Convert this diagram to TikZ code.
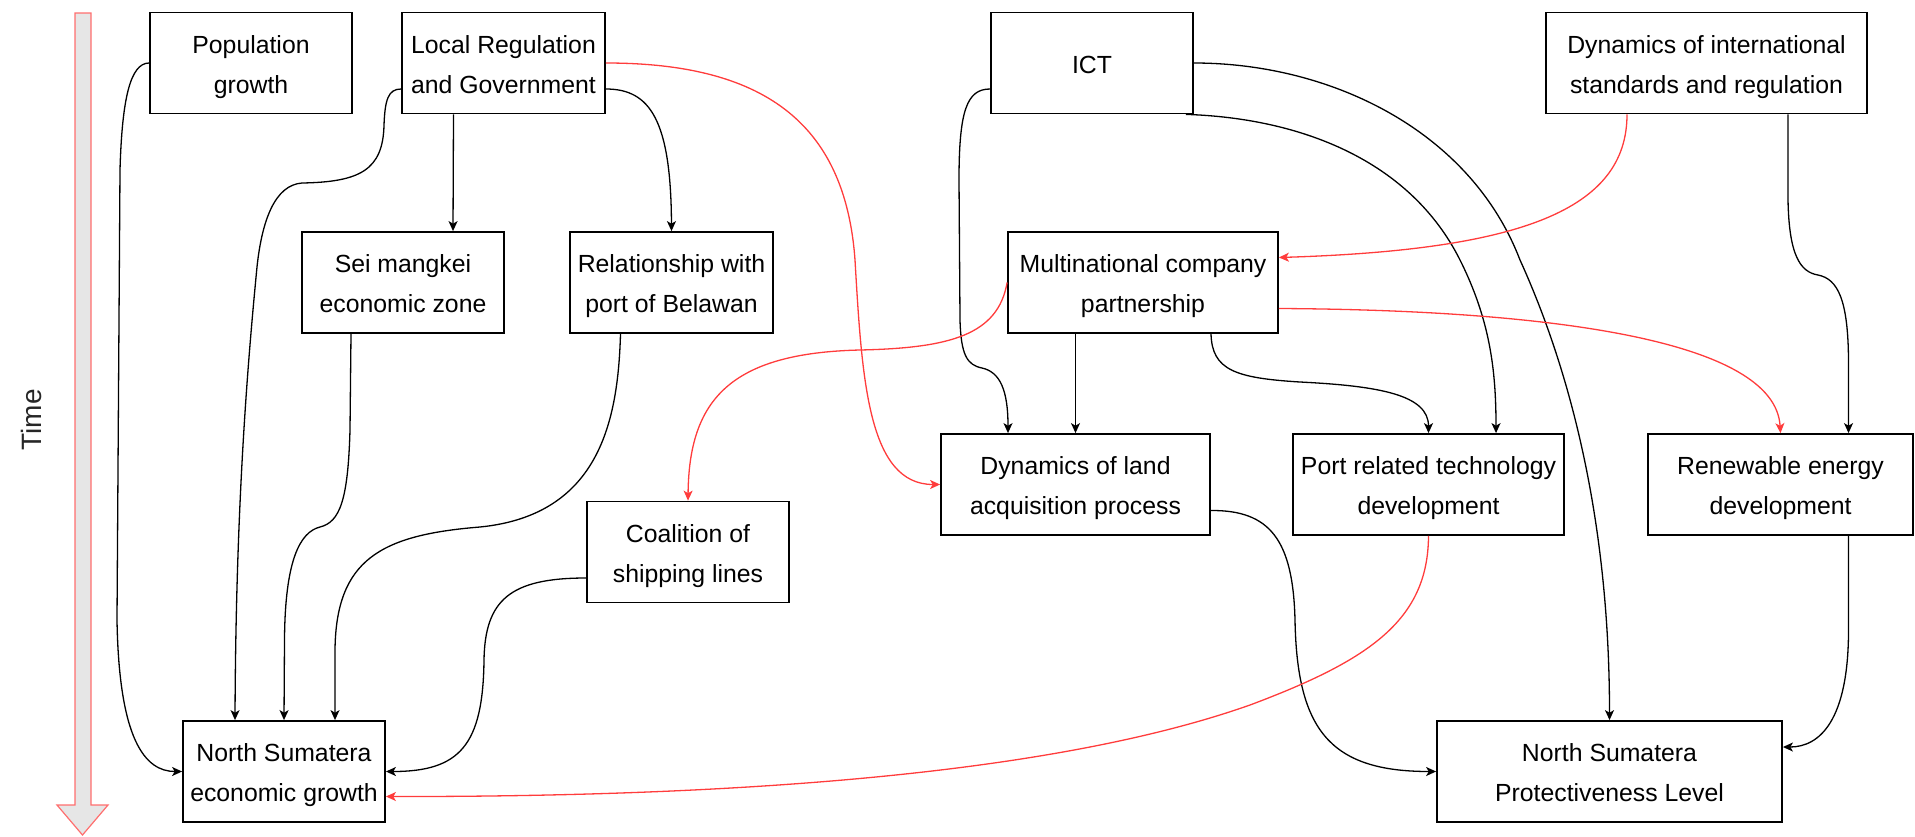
\documentclass[tikz,border=0pt]{standalone}
\usepackage{fontspec}
\setmainfont{Liberation Sans}
\usetikzlibrary{arrows.meta,calc}
\definecolor{redline}{RGB}{255,60,60}
\definecolor{timefill}{RGB}{230,230,230}
\definecolor{timeedge}{RGB}{255,110,110}
\newcommand\tst{\rule{0pt}{13pt}}
\newcommand\bst{\rule[-2.7pt]{0pt}{2.7pt}}
\begin{document}
\begin{tikzpicture}[x=0.5pt,y=-0.5pt,
  box/.style={draw=black, line width=0.9pt, align=center, inner sep=0pt,
    minimum height=50.5pt, font=\fontsize{12.4}{20}\selectfont},
  conn/.style={line width=0.65pt, -{Stealth[length=5pt,width=4.5pt,inset=1.3pt]}},
  redconn/.style={conn, draw=redline}
]
\useasboundingbox (0,0) rectangle (1915,836);

% time arrow
\draw[fill=timefill, draw=timeedge, line width=0.6pt]
  (75,13) -- (91,13) -- (91,805) -- (108,805) -- (82.5,835) -- (57,805) -- (75,805) -- cycle;
\node[rotate=90, font=\fontsize{14}{16}\selectfont, text=black!85] (time) at (31,420) {Time};

% nodes
\node[box, minimum width=101pt] (pop) at (251,63) {\tst Population\\growth\bst};
\node[box, minimum width=101.5pt] (loc) at (503.5,63) {\tst Local Regulation\\and Government\bst};
\node[box, minimum width=101pt] (ict) at (1092,63) {\tst ICT\bst};
\node[box, minimum width=160.5pt] (intl) at (1706.5,63) {\tst Dynamics of international\\standards and regulation\bst};
\node[box, minimum width=101pt] (sei) at (403,282.5) {\tst Sei mangkei\\economic zone\bst};
\node[box, minimum width=101.5pt] (rel) at (671.5,282.5) {\tst Relationship with\\port of Belawan\bst};
\node[box, minimum width=135pt] (multi) at (1143,282.5) {\tst Multinational company\\partnership\bst};
\node[box, minimum width=134.5pt] (land) at (1075.5,484.5) {\tst Dynamics of land\\acquisition process\bst};
\node[box, minimum width=135.5pt] (port) at (1428.5,484.5) {\tst Port related technology\\development\bst};
\node[box, minimum width=132.5pt] (renew) at (1780.5,484.5) {\tst Renewable energy\\development\bst};
\node[box, minimum width=101pt] (coal) at (688,552) {\tst Coalition of\\shipping lines\bst};
\node[box, minimum width=101pt] (nse) at (284,771.5) {\tst North Sumatera\\economic growth\bst};
\node[box, minimum width=172.5pt] (nsp) at (1609.5,771.5) {\tst North Sumatera\\Protectiveness Level\bst};

% black connectors
\draw[conn] (pop.west) .. controls (130,63) and (122,100) .. (120,170)
  -- (117,620) .. controls (119,740) and (145,771.5) .. (nse.west);
\draw[conn] ($(loc.west)+(0,26)$) .. controls (388,89) and (385,100) .. (384,125)
  .. controls (383,170) and (360,182) .. (302,183)
  .. controls (275,185) and (262,220) .. (257,267)
  .. controls (248,360) and (236,500) .. ($(nse.north)+(-49,0)$);
\draw[conn] ($(loc.south)+(-50,0)$) -- ($(sei.north)+(50,0)$);
\draw[conn] ($(loc.east)+(0,26)$) .. controls (650,89) and (671,120) .. (rel.north);
\draw[conn] ($(sei.south)+(-52,0)$) -- (350,430) .. controls (348,500) and (340,522) .. (320,527)
  .. controls (300,532) and (285,560) .. (284.5,640) -- (nse.north);
\draw[conn] ($(rel.south)+(-51,0)$) .. controls (618,420) and (600,515) .. (480,527)
  .. controls (380,535) and (336,560) .. (335,650) -- ($(nse.north)+(51,0)$);
\draw[conn] ($(coal.west)+(0,26)$) .. controls (510,578) and (485,600) .. (484,660)
  .. controls (483,745) and (460,771.5) .. (nse.east);
\draw[conn] ($(ict.west)+(0,26)$) .. controls (967,89) and (959,110) .. (959,180)
  -- (960,320) .. controls (961,355) and (967,365) .. (982,368)
  .. controls (1000,372) and (1008,390) .. ($(land.north)+(-67.5,0)$);
\draw[conn] (multi.south -| land.north) -- (land.north);
\draw[conn] ($(multi.south)+(68,0)$) .. controls (1212,370) and (1235,378) .. (1300,382)
  .. controls (1380,386) and (1428.5,395) .. (port.north);
\draw[conn] ($(ict.south east)+(-8,0)$) .. controls (1300,118) and (1410,160) .. (1460,260)
  .. controls (1490,320) and (1496,370) .. ($(port.north)+(67.5,0)$);
\draw[conn] (ict.east) .. controls (1330,63) and (1470,130) .. (1520,260)
  .. controls (1570,370) and (1609.5,520) .. (nsp.north);
\draw[conn] ($(intl.south)+(81.5,0)$) -- (1788,200) .. controls (1789,255) and (1800,272) .. (1818,275)
  .. controls (1838,279) and (1848,300) .. (1848.5,360) -- ($(renew.north)+(68,0)$);
\draw[conn] ($(land.east)+(0,26)$) .. controls (1270,510) and (1293,540) .. (1295,620)
  .. controls (1297,730) and (1330,771.5) .. (nsp.west);
\draw[conn] ($(renew.south)+(68,0)$) -- (1848.5,630) .. controls (1848.5,720) and (1820,747) .. ($(nsp.east)+(0,-24.5)$);

% red connectors
\draw[redconn] (loc.east) .. controls (760,63) and (845,120) .. (855,260)
  .. controls (862,380) and (868,484.5) .. (land.west);
\draw[redconn] (multi.west) .. controls (998,335) and (950,348) .. (860,350)
  .. controls (730,353) and (689,400) .. (coal.north);
\draw[redconn] ($(intl.south)+(-79.5,0)$) .. controls (1627,210) and (1520,250) .. ($(multi.east)+(0,-25)$);
\draw[redconn] ($(multi.east)+(0,26)$) .. controls (1550,310) and (1775,340) .. (renew.north);
\draw[redconn] (port.south) .. controls (1428,620) and (1370,660) .. (1250,705)
  .. controls (1080,765) and (800,797) .. ($(nse.east)+(0,25)$);
\end{tikzpicture}
\end{document}
